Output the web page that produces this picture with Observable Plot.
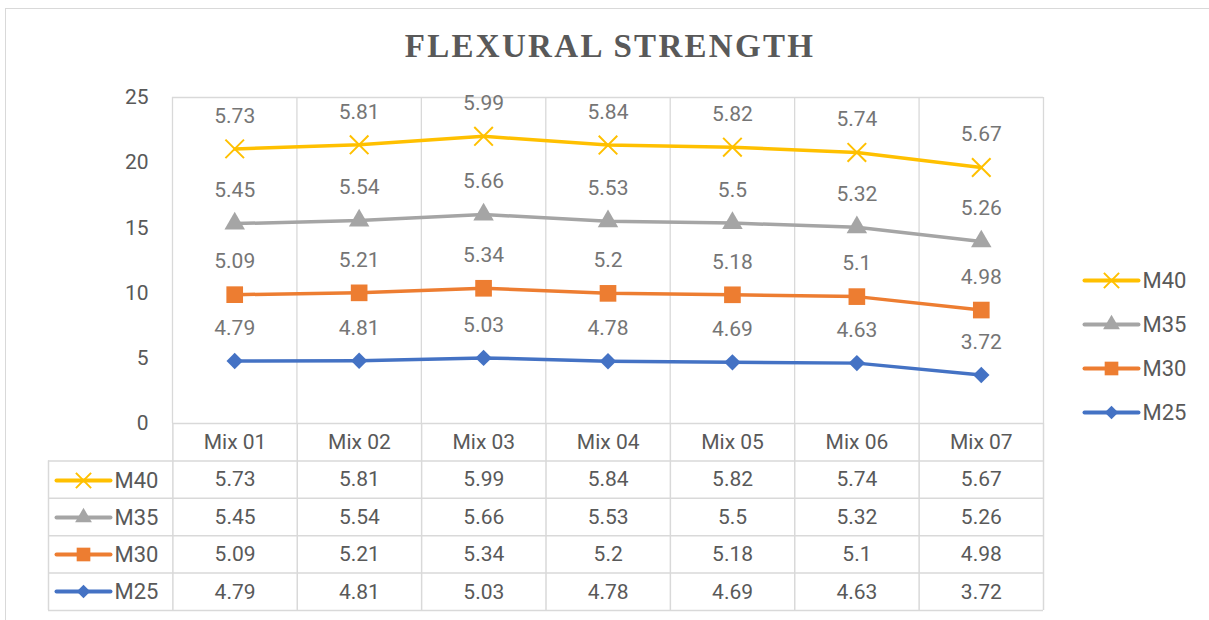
<!DOCTYPE html>
<html><head><meta charset="utf-8">
<script src="https://cdn.jsdelivr.net/npm/d3@7"></script>
<script src="https://cdn.jsdelivr.net/npm/@observablehq/plot@0.6"></script>
<style>
body{margin:0;background:#fff;font-family:Roboto,sans-serif;}
#wrap{position:relative;width:1209px;height:620px;overflow:hidden;background:#fff;}
#frame{position:absolute;left:5px;top:8px;width:1240px;height:660px;border:1px solid #d9d9d9;box-sizing:border-box;}
#title{position:absolute;left:0;width:1220px;top:26.5px;text-align:center;font-family:"Liberation Serif","DejaVu Serif",serif;font-weight:bold;font-size:33px;letter-spacing:2.3px;color:#595959;line-height:38px;white-space:nowrap;}
.abs{position:absolute;}
</style></head>
<body>
<div id="wrap">
  <div id="frame"></div>
  <div id="title">FLEXURAL STRENGTH</div>
  <div id="main" class="abs" style="left:0;top:0"></div>
  <div id="table" class="abs" style="left:0;top:421px"></div>
  <div id="tkeys" class="abs" style="left:50px;top:469px"></div>
  <div id="legend" class="abs" style="left:1078px;top:269px"></div>
</div>
<script>
// ---- data ----
const categories = ["Mix 01", "Mix 02", "Mix 03", "Mix 04", "Mix 05", "Mix 06", "Mix 07"];
const stackOrder = ["M25", "M30", "M35", "M40"];          // bottom to top
const M25 = [4.79, 4.81, 5.03, 4.78, 4.69, 4.63, 3.72];
const M30 = [5.09, 5.21, 5.34, 5.2, 5.18, 5.1, 4.98];
const M35 = [5.45, 5.54, 5.66, 5.53, 5.5, 5.32, 5.26];
const M40 = [5.73, 5.81, 5.99, 5.84, 5.82, 5.74, 5.67];
const yTicks = [0, 5, 10, 15, 20, 25];
const seriesColors = {M40: "#FFC000", M35: "#A5A5A5", M30: "#ED7D31", M25: "#4472C4"};
const seriesSymbols = {M40: "times", M35: "triangle", M30: "square", M25: "diamond2"};
const symbolRadius = {times: 8.5, triangle: 7.6, square: 9.4, diamond2: 7.4};
const seriesValues = {M25, M30, M35, M40};

// ---- derived (stacked lines) ----
const displayOrder = stackOrder.slice().reverse(); // M40 .. M25
const rows = [];
const running = categories.map(() => 0);
for (const s of stackOrder) {
  seriesValues[s].forEach((v, i) => {
    running[i] += v;
    rows.push({series: s, x: i + 1, cat: categories[i], value: v, top: running[i]});
  });
}
const bounds = d3.range(categories.length + 1).map(i => i + 0.5);
const grid = "#d9d9d9";
const textColor = "#595959";
const labelColor = "#757575";
const FS = 21;

function markerMarks(data, s, k) {
  const sym = seriesSymbols[s];
  const r = symbolRadius[sym] * k;
  if (sym === "times") {
    return Plot.dot(data, {x: "x", y: "y", symbol: sym, r, stroke: seriesColors[s], strokeWidth: 2, fill: "none"});
  }
  return Plot.dot(data, {x: "x", y: "y", symbol: sym, r, fill: seriesColors[s], stroke: "none"});
}

// ---- main chart ----
const mainMarks = [
  Plot.ruleX(bounds, {stroke: grid, strokeWidth: 1.3}),
  Plot.ruleY([yTicks[yTicks.length - 1]], {stroke: grid, strokeWidth: 1.3}),
];
for (const s of stackOrder) {
  const d = rows.filter(r => r.series === s);
  mainMarks.push(Plot.line(d, {x: "x", y: "top", stroke: seriesColors[s], strokeWidth: 3.5, strokeLinejoin: "round"}));
  mainMarks.push(markerMarks(d.map(r => ({x: r.x, y: r.top})), s, 1));
}
mainMarks.push(Plot.text(rows, {x: "x", y: "top", text: d => String(d.value), dy: -33, fill: labelColor, fontSize: FS, lineAnchor: "middle"}));

const main = Plot.plot({
  width: 1209, height: 460,
  marginTop: 97, marginBottom: 37, marginLeft: 172, marginRight: 166,
  style: {fontFamily: "Roboto, sans-serif", fontSize: FS + "px", color: textColor, background: "transparent"},
  x: {domain: [0.5, categories.length + 0.5], axis: null},
  y: {domain: [0, 25], ticks: yTicks, tickSize: 0, tickPadding: 24, label: null},
  marks: mainMarks
});
document.getElementById("main").append(main);

// ---- data table ----
const nRows = displayOrder.length + 1;
const cells = [];
displayOrder.forEach((s, k) => seriesValues[s].forEach((v, i) => cells.push({x: i + 1, row: k + 1, text: String(v)})));
const header = categories.map((c, i) => ({x: i + 1, row: 0, text: c}));
const table = Plot.plot({
  width: 1209, height: 192,
  marginTop: 2, marginBottom: 3, marginLeft: 48, marginRight: 166,
  style: {fontFamily: "Roboto, sans-serif", fontSize: FS + "px", color: textColor, background: "transparent", overflow: "visible"},
  x: {domain: [-0.5, categories.length + 0.5], axis: null},
  y: {domain: [-0.5, nRows - 0.5], reverse: true, axis: null},
  marks: [
    Plot.ruleY([-0.5], {x1: 0.5, x2: categories.length + 0.5, stroke: grid, strokeWidth: 1.5}),
    Plot.ruleY(d3.range(nRows).map(k => k + 0.5), {x1: -0.5, x2: categories.length + 0.5, stroke: grid, strokeWidth: 1.5}),
    Plot.ruleX([-0.5], {y1: 0.5, y2: nRows - 0.5, stroke: grid, strokeWidth: 1.5}),
    Plot.ruleX(bounds, {y1: -0.5, y2: nRows - 0.5, stroke: grid, strokeWidth: 1.5}),
    Plot.text(header.concat(cells), {x: "x", y: "row", text: "text", fill: textColor, fontSize: FS, lineAnchor: "middle"})
  ]
});
document.getElementById("table").append(table);

// ---- legend keys (line + marker + name) ----
function keyPlot(rowStep, k) {
  const marks = [];
  for (const s of displayOrder) {
    marks.push(Plot.link([s], {x1: 0, x2: 1, y1: d => d, y2: d => d, stroke: seriesColors[s], strokeWidth: 4, strokeLinecap: "round"}));
    marks.push(markerMarks([{x: 0.5, y: s}], s, k));
  }
  marks.push(Plot.text(displayOrder, {x: 1, y: d => d, text: d => d, textAnchor: "start", dx: 4, fill: textColor, fontSize: FS + 1, lineAnchor: "middle"}));
  return Plot.plot({
    width: 131, height: 20 + rowStep * (displayOrder.length - 1),
    marginTop: 10, marginBottom: 10, marginLeft: 6, marginRight: 71,
    style: {fontFamily: "Roboto, sans-serif", background: "transparent", overflow: "visible"},
    x: {domain: [0, 1], axis: null},
    y: {type: "point", domain: displayOrder, padding: 0, axis: null},
    marks
  });
}
document.getElementById("tkeys").append(keyPlot(37.4, 0.82));
document.getElementById("legend").append(keyPlot(44.7, 0.82));
</script>
</body></html>
